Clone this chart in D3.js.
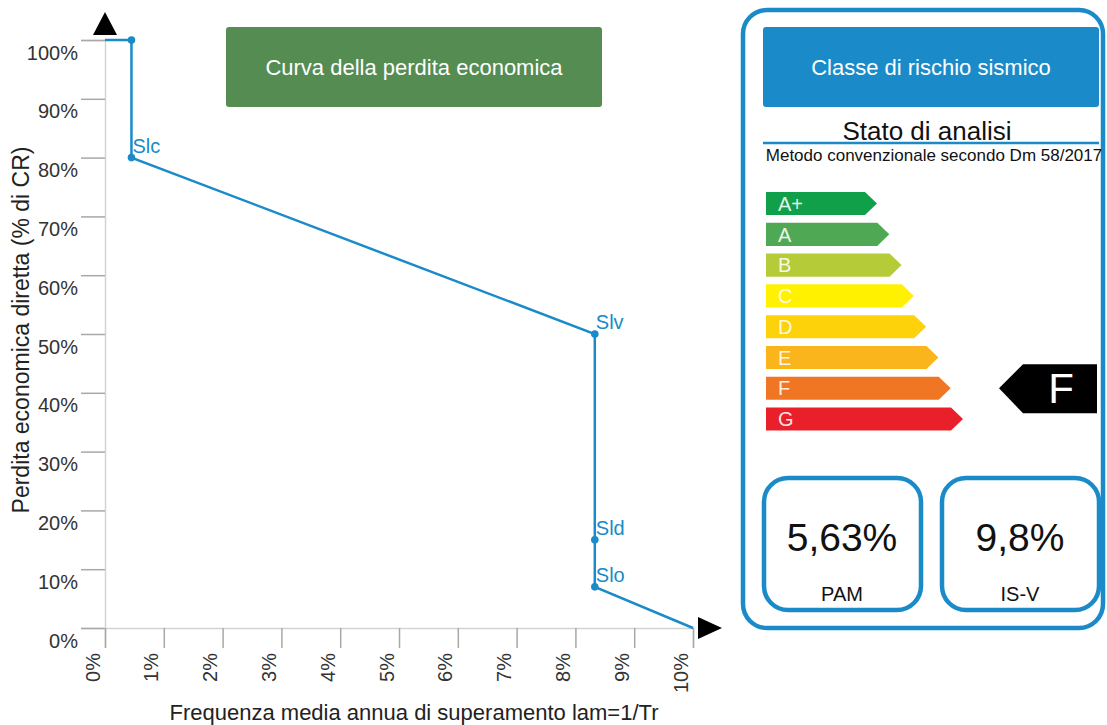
<!DOCTYPE html>
<html>
<head>
<meta charset="utf-8">
<script src="https://cdn.jsdelivr.net/npm/d3@7"></script>
<style>
  html, body { margin: 0; padding: 0; background: #fff; }
  svg { display: block; font-family: "Liberation Sans", Arial, sans-serif; }
</style>
</head>
<body>
<svg id="chart" width="1107" height="725"></svg>
<script>
// curve data (frequency %, loss %)
const freq = [0, 0.45, 0.45, 8.33, 8.33, 8.33, 10];
const loss = [100, 100, 80, 50, 15, 7, 0];
const pointLabels = ["", "", "Slc", "Slv", "Sld", "Slo", ""];
const showDot = [false, true, true, true, true, true, false];

const xTicks = [0, 1, 2, 3, 4, 5, 6, 7, 8, 9, 10];
const yTicks = [0, 10, 20, 30, 40, 50, 60, 70, 80, 90, 100];

// risk classes
const classes = ["A+", "A", "B", "C", "D", "E", "F", "G"];
const classColors = ["#11a04a", "#4fa954", "#b5cc38", "#fff100", "#fdd20b", "#fab51d", "#f07624", "#e9202a"];
const currentClass = "F";

const pam = "5,63%";
const isv = "9,8%";

const blue = "#1a8bc8";

const svg = d3.select("#chart");

const x = d3.scaleLinear().domain([0, 10]).range([105, 693]);
const y = d3.scaleLinear().domain([0, 100]).range([628, 40]);

// y axis
const yAxis = svg.append("g")
  .attr("transform", `translate(${x(0)},0)`)
  .call(d3.axisLeft(y).tickValues(yTicks).tickSize(24).tickPadding(3).tickFormat(d => d + "%"));
yAxis.select(".domain").attr("stroke", "#d4d4d4").attr("stroke-width", 1.5);
yAxis.selectAll(".tick line").attr("stroke", "#a8a8a8").attr("stroke-width", 1.5);
yAxis.selectAll(".tick text")
  .attr("font-size", 20)
  .attr("fill", "#333")
  .attr("dy", "0.95em");

// x axis
const xAxis = svg.append("g")
  .attr("transform", `translate(0,${y(0)})`)
  .call(d3.axisBottom(x).tickValues(xTicks).tickSize(20).tickFormat(d => d + "%"));
xAxis.select(".domain").attr("stroke", "#d4d4d4").attr("stroke-width", 1.5);
xAxis.selectAll(".tick line").attr("stroke", "#a8a8a8").attr("stroke-width", 1.5);
xAxis.selectAll(".tick text")
  .attr("font-size", 20)
  .attr("fill", "#333")
  .attr("text-anchor", "end")
  .attr("dy", null)
  .attr("y", null)
  .attr("transform", "translate(-6,25) rotate(-90)");

// axis arrows
svg.append("path")
  .attr("d", `M${x(0)},${y(100) - 28} L${x(0) + 12},${y(100) - 5} L${x(0) - 12},${y(100) - 5} Z`)
  .attr("fill", "#000");
svg.append("path")
  .attr("d", `M${x(10) + 29},${y(0)} L${x(10) + 5},${y(0) - 11} L${x(10) + 5},${y(0) + 11} Z`)
  .attr("fill", "#000");

// axis titles
svg.append("text")
  .attr("x", 414).attr("y", 720)
  .attr("text-anchor", "middle")
  .attr("font-size", 22)
  .attr("fill", "#222")
  .text("Frequenza media annua di superamento lam=1/Tr");

svg.append("text")
  .attr("transform", `translate(29,330) rotate(-90)`)
  .attr("text-anchor", "middle")
  .attr("font-size", 23)
  .attr("fill", "#222")
  .text("Perdita economica diretta (% di CR)");

// title box
svg.append("rect")
  .attr("x", 226).attr("y", 27).attr("width", 376).attr("height", 80)
  .attr("rx", 3)
  .attr("fill", "#558c52");
svg.append("text")
  .attr("x", 414).attr("y", 75)
  .attr("text-anchor", "middle")
  .attr("font-size", 22)
  .attr("fill", "#fff")
  .text("Curva della perdita economica");

// curve
const pts = freq.map((f, i) => ({ f: f, l: loss[i], label: pointLabels[i], dot: showDot[i] }));

svg.append("path")
  .datum(pts)
  .attr("fill", "none")
  .attr("stroke", blue)
  .attr("stroke-width", 2.5)
  .attr("d", d3.line().x(d => x(d.f)).y(d => y(d.l)));

svg.selectAll(".dot")
  .data(pts.filter(d => d.dot))
  .enter()
  .append("circle")
  .attr("class", "dot")
  .attr("cx", d => x(d.f))
  .attr("cy", d => y(d.l))
  .attr("r", 3.8)
  .attr("fill", blue);

svg.selectAll(".plabel")
  .data(pts.filter(d => d.label))
  .enter()
  .append("text")
  .attr("class", "plabel")
  .attr("x", d => x(d.f) + 1)
  .attr("y", d => y(d.l) - 5)
  .attr("font-size", 20)
  .attr("fill", blue)
  .text(d => d.label);

// right panel
svg.append("rect")
  .attr("x", 743).attr("y", 10).attr("width", 360).attr("height", 618)
  .attr("rx", 24)
  .attr("fill", "none")
  .attr("stroke", blue)
  .attr("stroke-width", 4.5);

svg.append("rect")
  .attr("x", 763).attr("y", 27).attr("width", 336).attr("height", 80)
  .attr("rx", 3)
  .attr("fill", blue);
svg.append("text")
  .attr("x", 931).attr("y", 75)
  .attr("text-anchor", "middle")
  .attr("font-size", 22)
  .attr("fill", "#fff")
  .text("Classe di rischio sismico");

svg.append("text")
  .attr("x", 927).attr("y", 140)
  .attr("text-anchor", "middle")
  .attr("font-size", 26)
  .attr("fill", "#111")
  .text("Stato di analisi");
svg.append("line")
  .attr("x1", 763).attr("x2", 1099)
  .attr("y1", 143).attr("y2", 143)
  .attr("stroke", blue)
  .attr("stroke-width", 2.5);
svg.append("text")
  .attr("x", 934).attr("y", 161)
  .attr("text-anchor", "middle")
  .attr("font-size", 17)
  .attr("fill", "#111")
  .text("Metodo convenzionale secondo Dm 58/2017");

// class arrows
const rowY = d3.scaleBand().domain(classes).range([192, 430.6]).paddingInner(0.25).paddingOuter(0);
const barLen = d3.scaleLinear().domain([0, classes.length - 1]).range([99, 185]);
const barX = 766;

const rows = svg.selectAll(".cls")
  .data(classes)
  .enter()
  .append("g")
  .attr("class", "cls")
  .attr("transform", d => `translate(${barX},${rowY(d)})`);

rows.append("path")
  .attr("d", (d, i) => {
    const w = barLen(i), h = rowY.bandwidth();
    return `M0,0 L${w},0 L${w + 12},${h / 2} L${w},${h} L0,${h} Z`;
  })
  .attr("fill", (d, i) => classColors[i]);

rows.append("text")
  .attr("x", 12)
  .attr("y", rowY.bandwidth() / 2)
  .attr("dy", "0.36em")
  .attr("font-size", 20)
  .attr("fill", "#fff")
  .attr("fill-opacity", 0.9)
  .text(d => d);

// current class indicator
const cy = rowY(currentClass) + rowY.bandwidth() / 2;
svg.append("path")
  .attr("d", `M999,${cy} L1023,${cy - 24} L1097,${cy - 24} L1097,${cy + 25} L1023,${cy + 25} Z`)
  .attr("fill", "#000");
svg.append("text")
  .attr("x", 1061).attr("y", cy + 15)
  .attr("text-anchor", "middle")
  .attr("font-size", 42)
  .attr("fill", "#fff")
  .text(currentClass);

// indicator boxes
const boxes = [
  { value: pam, name: "PAM", x: 764 },
  { value: isv, name: "IS-V", x: 942 }
];
const bx = svg.selectAll(".box")
  .data(boxes)
  .enter()
  .append("g")
  .attr("class", "box")
  .attr("transform", d => `translate(${d.x},478)`);
bx.append("rect")
  .attr("width", 157).attr("height", 132)
  .attr("rx", 24)
  .attr("fill", "none")
  .attr("stroke", blue)
  .attr("stroke-width", 4.5);
bx.append("text")
  .attr("x", 78).attr("y", 73)
  .attr("text-anchor", "middle")
  .attr("font-size", 39)
  .attr("fill", "#111")
  .text(d => d.value);
bx.append("text")
  .attr("x", 78).attr("y", 123)
  .attr("text-anchor", "middle")
  .attr("font-size", 20)
  .attr("fill", "#111")
  .text(d => d.name);
</script>
</body>
</html>
